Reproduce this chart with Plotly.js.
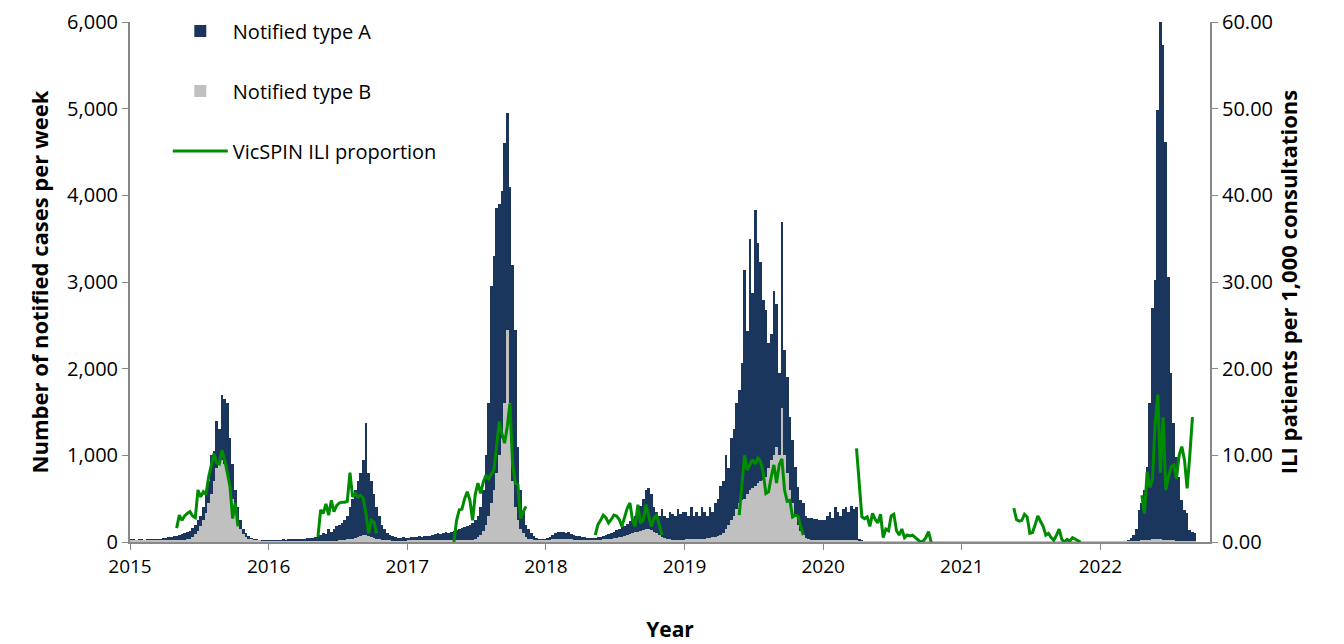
<!DOCTYPE html>
<html><head><meta charset="utf-8">
<script src="https://cdn.plot.ly/plotly-3.0.1.min.js"></script>
<style>body{margin:0;background:#fff}#c{width:1344px;height:644px}</style>
</head><body><div id="c"></div>
<script>
const years = [2015,2016,2017,2018,2019,2020,2021,2022];
const typeA = {
2015:[30,30,25,30,30,25,30,30,35,30,40,40,45,50,55,60,65,70,80,90,100,110,130,160,200,250,300,400,550,700,1000,1050,1400,1300,1700,1650,1600,1200,900,600,400,250,150,100,70,50,35,30,25,20,20,20],
2016:[20,20,25,20,25,30,25,30,30,35,30,35,40,40,45,50,50,60,70,80,100,90,150,120,150,180,200,220,250,300,400,500,600,700,800,950,1370,800,700,550,400,300,200,150,100,80,70,60,50,50,60,50],
2017:[50,60,55,60,65,60,70,70,75,80,90,100,90,100,110,100,120,130,140,150,160,170,180,200,220,250,300,400,600,1000,1600,2950,3300,3850,3900,4050,4600,4950,4100,3200,2450,1100,600,350,200,150,100,70,50,40,35,30],
2018:[50,60,80,100,120,110,120,100,110,90,80,70,70,60,60,50,50,50,50,60,60,70,80,90,100,120,140,150,170,190,210,240,270,300,350,420,500,600,620,550,400,350,300,380,300,280,350,320,300,380,320,350],
2019:[350,300,400,300,350,300,400,350,300,400,350,450,500,650,700,1000,850,1200,1300,1600,1750,2060,3140,2440,3500,2870,3830,3450,3230,2790,2680,2300,2400,2900,2750,1950,3690,2210,1900,1440,1180,870,630,480,450,300,280,280,270,260,250,250],
2020:[250,300,350,280,400,350,300,380,400,350,420,380,400,30,15,10,8,5,5,5,5,5,5,5,5,5,5,5,5,5,5,5,5,5,5,5,5,5,5,5,5,5,5,5,5,5,5,5,5,5,5,5],
2021:[3,3,3,3,3,3,3,3,3,3,3,3,3,3,3,3,3,3,3,3,3,3,3,3,3,3,3,3,3,3,3,3,3,3,3,3,3,3,3,3,3,3,3,3,3,3,3,3,3,3,3,3],
2022:[2,2,2,3,3,3,5,5,5,10,20,50,80,150,370,450,600,870,1600,2700,3020,4980,6020,5730,4610,3060,1950,1370,980,750,480,370,340,140,120,100]
};
const typeB = {
2015:[15,15,15,15,15,15,15,15,15,15,15,15,15,15,15,15,15,15,15,15,15,30,40,60,90,130,180,250,330,450,550,700,850,900,950,900,800,650,500,350,230,150,90,60,40,30,20,15,15,10,10,10],
2016:[10,10,10,10,10,10,10,10,10,10,10,10,10,10,10,10,10,10,10,10,10,10,10,10,10,10,15,20,25,30,35,40,50,60,70,80,80,70,60,50,40,30,25,20,15,15,10,10,10,10,10,10],
2017:[20,20,20,20,20,20,20,20,20,20,20,20,20,20,20,20,20,20,20,20,20,20,20,20,20,40,60,80,130,200,300,450,600,800,1000,1200,1600,2450,1600,700,400,250,150,100,60,40,30,25,20,20,20,20],
2018:[20,25,30,35,40,40,40,35,30,30,25,25,20,20,20,20,20,20,20,25,25,30,30,35,40,45,50,55,60,70,80,90,100,110,120,130,140,150,150,140,120,100,80,60,50,40,30,25,20,20,20,20],
2019:[30,30,30,30,35,35,40,40,45,50,55,60,70,80,100,150,200,250,300,380,450,480,500,550,600,620,650,680,700,720,750,850,950,1000,1100,1000,1550,1000,800,600,450,300,200,130,80,50,30,20,20,15,15,15],
2020:[15,15,15,15,15,15,15,15,15,15,15,15,15,5,3,2,2,2,2,2,2,2,2,2,2,2,2,2,2,2,2,2,2,2,2,2,2,2,2,2,2,2,2,2,2,2,2,2,2,2,2,2],
2021:[1,1,1,1,1,1,1,1,1,1,1,1,1,1,1,1,1,1,1,1,1,1,1,1,1,1,1,1,1,1,1,1,1,1,1,1,1,1,1,1,1,1,1,1,1,1,1,1,1,1,1,1],
2022:[1,1,1,1,1,1,1,1,1,2,3,5,5,8,10,12,15,20,25,30,30,30,30,25,20,20,15,15,10,10,8,5,5,5,3,3]
};
const iliStart = {2015:17,2016:18,2017:17,2018:18,2019:20,2020:12,2021:19,2022:15};
const ili = {
2015:[1.6,3.1,2.5,3.0,3.3,3.5,3.0,2.8,6.0,5.2,5.8,5.5,7.5,8.7,10.2,9.1,9.0,10.6,9.5,8.0,6.4,2.7,4.5,1.8],
2016:[0.6,3.7,3.3,4.4,3.1,4.8,3.5,4.2,4.5,4.6,4.6,4.7,8.0,5.2,5.6,5.2,5.4,5.0,3.3,1.0,2.5,2.3,1.0],
2017:[0,2.5,3.7,3.8,5.0,5.8,4.8,2.5,5.5,6.8,5.6,6.9,7.7,7.3,7.8,8.3,11.0,13.9,12.5,11.4,13.3,16.0,9.0,6.8,6.6,2.7,3.5,4.1],
2018:[0.8,2.0,2.5,3.1,2.8,2.2,2.6,3.1,3.0,2.6,1.8,3.0,3.9,4.5,2.5,1.8,4.3,2.2,2.5,4.3,3.0,1.8,2.8,3.1,2.0,0.8],
2019:[3.1,6.5,10.0,8.3,9.0,9.5,9.0,9.7,9.3,8.0,5.6,5.8,7.5,8.9,6.8,8.9,9.6,6.0,4.7,4.8,2.9,3.1,3.0,1.8,0.8],
2020:[10.8,6.5,2.9,2.7,2.9,1.8,3.3,2.6,2.2,3.2,0.5,1.5,1.3,3.0,3.2,1.3,0.8,1.5,0.5,0.8,0.7,0.8,0.5,0.2,0,0.1,0.5,1.2,0],
2021:[3.9,2.6,2.4,2.5,3.2,2.9,1.0,1.1,2.0,3.0,2.4,1.8,0.8,1.0,0.5,0.2,0.8,1.5,0.3,0,0.3,0.1,0.5,0.3,0.1,0],
2022:[5.4,3.3,8.1,6.3,7.2,13.7,17.0,8.0,14.4,6.0,7.5,8.7,8.9,7.3,10.0,11.0,9.5,6.2,10.0,14.4]
};
const xTicks = [2015,2016,2017,2018,2019,2020,2021,2022];

const ax=[],ay=[],bx=[],by=[],gx=[],gy=[];
years.forEach(y=>{
  typeA[y].forEach((v,w)=>{ax.push(y+(w+0.5)/52);ay.push(v);});
  typeB[y].forEach((v,w)=>{bx.push(y+(w+0.5)/52);by.push(v);});
  ili[y].forEach((v,i)=>{gx.push(y+(iliStart[y]+i+0.5)/52);gy.push(v);});
  gx.push(y+0.99);gy.push(null);
});
const F='"Open Sans", "Liberation Sans", Arial, sans-serif';
const traces=[
 {type:'bar',x:ax,y:ay,width:1/52,name:'Notified type A',legendgroup:'a',marker:{color:'#1b365d',line:{width:0}}},
 {type:'bar',x:bx,y:by,width:1/52,name:'Notified type B',legendgroup:'b',marker:{color:'#c0c0c0',line:{width:0}}},
 {type:'scatter',mode:'lines',x:gx,y:gy,yaxis:'y2',name:'VicSPIN ILI proportion',legendgroup:'c',line:{color:'#008c00',width:3},connectgaps:false}
];
const layout={
 width:1344,height:644,margin:{l:130,r:134,t:22,b:102},
 barmode:'overlay',bargap:0,showlegend:true,plot_bgcolor:'#fff',paper_bgcolor:'#fff',
 font:{family:F,size:19,color:'#000'},
 legend:{x:0.035,y:1.02,xanchor:'left',yanchor:'top',font:{size:20},tracegroupgap:31,itemwidth:55,bgcolor:'rgba(0,0,0,0)'},
 xaxis:{range:[2015,2022.79],tickvals:xTicks,ticktext:xTicks.map(String),ticks:'outside',ticklen:6,tickcolor:'#888',
  showline:true,linecolor:'#888',linewidth:2,showgrid:false,zeroline:false,tickfont:{size:19},
  title:{text:'<b>Year</b>',font:{size:21},standoff:45}},
 yaxis:{range:[0,6000],dtick:1000,tickformat:',',ticks:'outside',ticklen:6,tickcolor:'#888',showline:true,linecolor:'#888',linewidth:2,
  showgrid:false,zeroline:false,tickfont:{size:20},title:{text:'<b>Number of notified cases per week</b>',font:{size:22},standoff:12}},
 yaxis2:{range:[0,60],dtick:10,tickformat:'.2f',overlaying:'y',side:'right',ticks:'outside',ticklen:6,tickcolor:'#888',showline:true,
  linecolor:'#888',linewidth:2,showgrid:false,zeroline:false,tickfont:{size:20},
  title:{text:'<b>ILI patients per 1,000 consultations</b>',font:{size:22},standoff:10}}
};
Plotly.newPlot('c',traces,layout,{displayModeBar:false});
</script></body></html>
